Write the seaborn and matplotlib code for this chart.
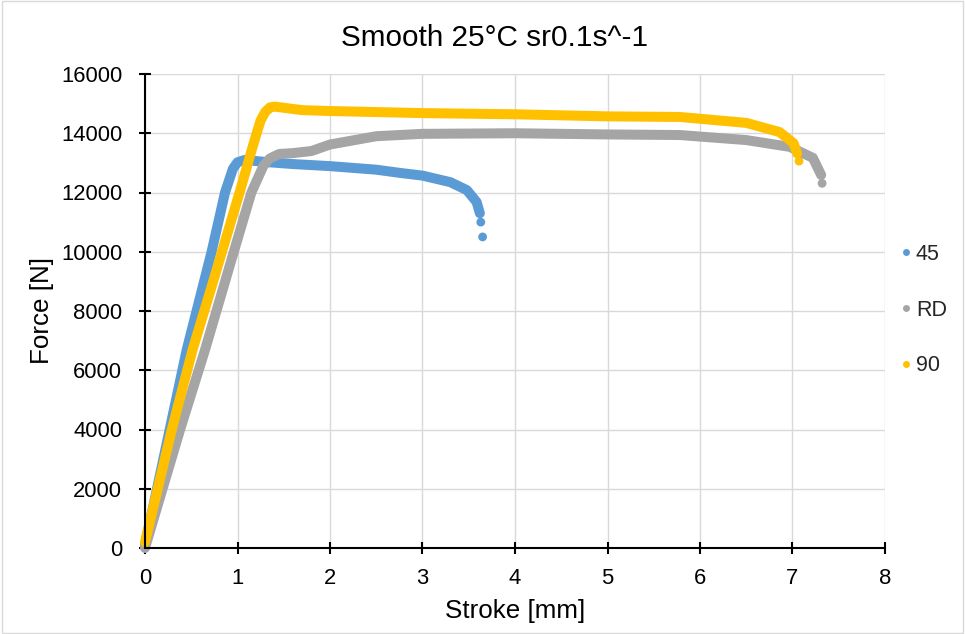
import matplotlib
matplotlib.use("Agg")
import matplotlib.pyplot as plt
import seaborn as sns
import pandas as pd
from matplotlib.patches import Rectangle

sns.set_theme(style="white")
plt.rcParams['font.family'] = ['Liberation Sans', 'DejaVu Sans']

series_names = ["45", "RD", "90"]
colors = ["#5B9BD5", "#A5A5A5", "#FFC000"]

# 45 specimen
x45 = [0.0, 0.45, 0.72, 0.865, 0.95, 1.0, 1.08, 1.3, 1.6, 2.0, 2.5, 2.76, 3.0, 3.3, 3.48, 3.585, 3.62]
y45 = [100, 6680, 10000, 12000, 12800, 13020, 13100, 13030, 12960, 12890, 12770, 12660, 12570, 12350, 12080, 11680, 11300]
x45_tail = [3.63, 3.65]
y45_tail = [11000, 10500]

# RD specimen
xRD = [0.0, 0.38, 0.65, 0.96, 1.15, 1.28, 1.35, 1.45, 1.6, 1.8, 2.0, 2.5, 3.0, 4.0, 5.0, 5.78, 6.5, 6.97, 7.22, 7.31]
yRD = [0, 4000, 6700, 10000, 12000, 12900, 13150, 13300, 13330, 13400, 13620, 13900, 13980, 14000, 13960, 13940, 13770, 13540, 13170, 12590]
xRD_tail = [7.32]
yRD_tail = [12310]

# 90 specimen
x90 = [0.0, 0.29, 0.515, 0.72, 1.03, 1.153, 1.207, 1.25, 1.3, 1.35, 1.4, 1.5, 1.7, 2.0, 3.0, 4.0, 5.0, 5.78, 6.5, 6.86, 7.01, 7.05]
y90 = [200, 4000, 6700, 8820, 12080, 13430, 14000, 14430, 14720, 14870, 14900, 14860, 14780, 14750, 14680, 14640, 14570, 14550, 14350, 14040, 13670, 13320]
x90_tail = [7.07]
y90_tail = [13060]

lines = pd.concat([
    pd.DataFrame({"x": x45, "y": y45, "s": "45"}),
    pd.DataFrame({"x": xRD, "y": yRD, "s": "RD"}),
    pd.DataFrame({"x": x90, "y": y90, "s": "90"}),
], ignore_index=True)
tails = pd.concat([
    pd.DataFrame({"x": x45_tail, "y": y45_tail, "s": "45"}),
    pd.DataFrame({"x": xRD_tail, "y": yRD_tail, "s": "RD"}),
    pd.DataFrame({"x": x90_tail, "y": y90_tail, "s": "90"}),
], ignore_index=True)

pal = dict(zip(series_names, colors))

fig = plt.figure(figsize=(9.65, 6.34), dpi=100)
ax = fig.add_axes([145/965, 1-548/634, 740/965, 474/634])

for name in series_names:
    sub = lines[lines.s == name]
    sns.lineplot(data=sub, x="x", y="y", color=pal[name], linewidth=7.2,
                 sort=False, estimator=None, legend=False, ax=ax,
                 solid_capstyle="round", solid_joinstyle="round", clip_on=False)
    st = tails[tails.s == name]
    sns.scatterplot(data=st, x="x", y="y", color=pal[name], s=40,
                    edgecolor="none", legend=False, ax=ax)

ax.set_xlim(0, 8)
ax.set_ylim(0, 16000)
ax.set_xticks(range(0, 9))
ax.set_yticks(range(0, 16001, 2000))
ax.grid(True, color="#D9D9D9", linewidth=1)
ax.set_axisbelow(True)
for sp in ["top", "right"]:
    ax.spines[sp].set_visible(False)
for sp in ["left", "bottom"]:
    ax.spines[sp].set_color("black")
    ax.spines[sp].set_linewidth(1.5)
ax.tick_params(direction="inout", length=8.6, width=1.5, color="black",
               labelsize=15.8, labelcolor="black", left=True, bottom=True)
ax.tick_params(axis="y", pad=12)
ax.tick_params(axis="x", pad=10)
ax.set_xlabel("Stroke [mm]", fontsize=18.7, color="black", labelpad=7)
ax.set_ylabel("Force [N]", fontsize=18.7, color="black", labelpad=5)
ax.set_title("Smooth 25°C sr0.1s^-1", fontsize=21.4, color="black", pad=20, x=0.473)

handles = [plt.Line2D([], [], marker="o", linestyle="none", markersize=5,
                      markerfacecolor=c, markeredgecolor="none") for c in colors]
fig.legend(handles, series_names, loc="center left", bbox_to_anchor=(0.9323, 0.511),
           frameon=False, fontsize=15.5, labelspacing=1.62, handletextpad=0.15,
           handlelength=0.6, borderaxespad=0, borderpad=0)

fig.patches.append(Rectangle((0.002, 0.002), 0.996, 0.996, transform=fig.transFigure,
                             fill=False, edgecolor="#D9D9D9", linewidth=1))

fig.savefig("out.png", dpi=100)
